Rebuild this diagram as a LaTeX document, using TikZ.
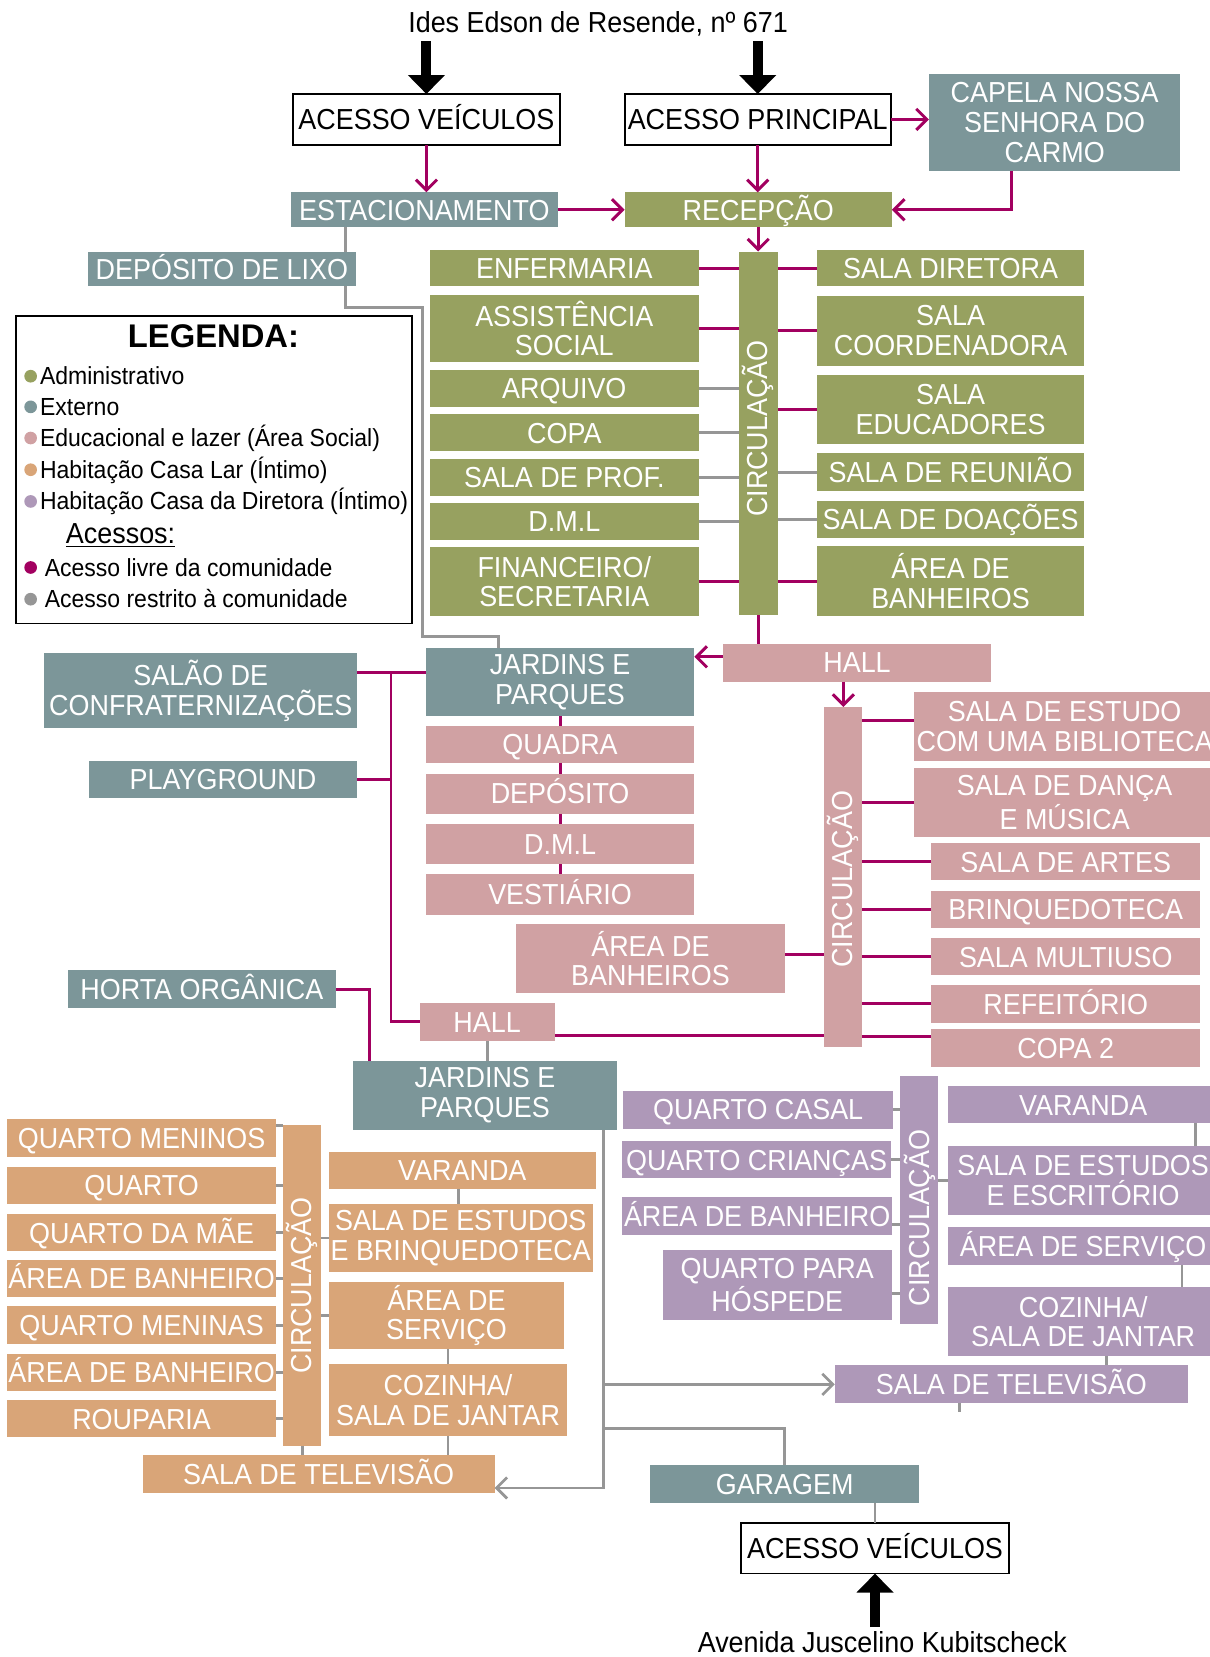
\documentclass[tikz,border=0pt]{standalone}
\usepackage{fontspec}
\setmainfont{Liberation Sans}[FakeStretch=0.93]
\newfontfamily\wideft{Liberation Sans}
\usetikzlibrary{arrows.meta,calc}
\definecolor{olv}{RGB}{151,161,96}
\definecolor{tea}{RGB}{124,150,153}
\definecolor{pnk}{RGB}{208,161,163}
\definecolor{org}{RGB}{217,165,120}
\definecolor{pur}{RGB}{174,152,184}
\definecolor{mgt}{RGB}{162,0,96}
\definecolor{gr}{RGB}{150,150,150}
\newcommand\bx[7]{%
  \pgfmathsetmacro\bxcx{(#3+#5)/2}%
  \pgfmathsetmacro\bxcy{(#4+#6)/2}%
  \pgfmathsetmacro\bxw{(#5-#3)*0.5}%
  \pgfmathsetmacro\bxh{(#6-#4)*0.5}%
  \node[#1,minimum width=\bxw pt,minimum height=\bxh pt] (#2) at (\bxcx,\bxcy) {#7};}
\begin{document}
\begin{tikzpicture}[x=0.5pt,y=-0.5pt,
  bxs/.style={inner sep=0pt,outer sep=0pt,align=center,text=white,font=\fontsize{13.7}{14}\selectfont,
    text height=9.8pt,text depth=0pt},
  ml/.style={text height=,text depth=},
  sAdm/.style={bxs,fill=olv},
  sExt/.style={bxs,fill=tea},
  sEdu/.style={bxs,fill=pnk},
  sLar/.style={bxs,fill=org},
  sDir/.style={bxs,fill=pur},
  wbox/.style={bxs,fill=white,draw=black,line width=0.9pt,text=black},
  legbox/.style={inner sep=0pt,outer sep=0pt,draw=black,line width=0.8pt},
  mag/.style={draw=mgt,line width=1.4pt},
  gry/.style={draw=gr,line width=1.3pt},
  marr/.style={-{Straight Barb[length=5pt,width=10pt]}},
  blk/.style={draw=black,line width=4.8pt,-{Triangle[length=9pt,width=17pt]}},
  lgt/.style={anchor=base west,inner sep=0pt,font=\fontsize{11.7}{14}\selectfont},
  street/.style={inner sep=2pt,anchor=base,font=\fontsize{13.7}{14}\selectfont},
]
\useasboundingbox (0,0) rectangle (1145,1568);
\fill[white] (0,0) rectangle (1145,1568);
\clip (0,0) rectangle (1145,1568);

% ---------- top ----------
\node[street] (streetA) at (566,31) {Ides Edson de Resende, nº 671};
\bx{wbox}{av1}{277}{89}{530}{137}{ACESSO VEÍCULOS}
\bx{wbox}{ap}{591}{89}{843}{137}{ACESSO PRINCIPAL}
\bx{sExt,ml}{capela}{879}{70}{1117}{162}{CAPELA NOSSA\\SENHORA DO\\CARMO}
\bx{sExt}{estac}{275}{182}{528}{215}{ESTACIONAMENTO}
\bx{sAdm}{recep}{591}{182}{844}{215}{RECEPÇÃO}
\bx{sExt}{lixo}{83}{238}{337}{271}{DEPÓSITO DE LIXO}

% ---------- administrative ----------
\bx{sAdm}{enf}{407}{237}{661}{271}{ENFERMARIA}
\bx{sAdm,ml}{assist}{407}{279}{661}{343}{ASSISTÊNCIA\\SOCIAL}
\bx{sAdm}{arq}{407}{350}{661}{385}{ARQUIVO}
\bx{sAdm}{copa}{407}{392}{661}{427}{COPA}
\bx{sAdm}{prof}{407}{434}{661}{469}{SALA DE PROF.}
\bx{sAdm}{dmlA}{407}{476}{661}{511}{D.M.L}
\bx{sAdm,ml}{fin}{407}{518}{661}{583}{FINANCEIRO/\\SECRETARIA}
\bx{sAdm,ml}{circA}{699}{238}{736}{582}{\rotatebox{90}{\hspace{4.4pt}CIRCULAÇÃO}}
\bx{sAdm}{dirt}{773}{237}{1026}{271}{SALA DIRETORA}
\bx{sAdm,ml}{coord}{773}{280}{1026}{346}{SALA\\COORDENADORA}
\bx{sAdm,ml}{educ}{773}{355}{1026}{420}{SALA\\EDUCADORES}
\bx{sAdm}{reun}{773}{429}{1026}{465}{SALA DE REUNIÃO}
\bx{sAdm}{doa}{773}{474}{1026}{509}{SALA DE DOAÇÕES}
\bx{sAdm,ml}{banA}{773}{517}{1026}{583}{ÁREA DE\\BANHEIROS}

% ---------- legend ----------
\bx{legbox}{leg}{15}{299}{390}{590}{}
\node[inner sep=0pt,anchor=base,font=\wideft\bfseries\fontsize{15.5}{18}\selectfont] (legT) at (202,329) {LEGENDA:};
\fill[olv] (29,356) circle (3pt);
\fill[tea] (29,385) circle (3pt);
\fill[pnk] (29,414.5) circle (3pt);
\fill[org] (29,444.5) circle (3pt);
\fill[pur] (29,474.5) circle (3pt);
\fill[mgt] (29,537) circle (3pt);
\fill[gr] (29,567) circle (3pt);
\node[lgt] (lg1) at (37.5,364) {Administrativo};
\node[lgt] (lg2) at (37.5,393) {Externo};
\node[lgt] (lg3) at (37.5,422.5) {Educacional e lazer (Área Social)};
\node[lgt] (lg4) at (37.5,452.5) {Habitação Casa Lar (Íntimo)};
\node[lgt] (lg5) at (37.5,482.5) {Habitação Casa da Diretora (Íntimo)};
\node[lgt,font=\fontsize{13.7}{14}\selectfont] (lg6) at (62,514) {\underline{Acessos:}};
\node[lgt] (lg7) at (42,545.5) {Acesso livre da comunidade};
\node[lgt] (lg8) at (42,575) {Acesso restrito à comunidade};

% ---------- educational / social ----------
\bx{sExt,ml}{salao}{42}{618}{338}{689}{SALÃO DE\\CONFRATERNIZAÇÕES}
\bx{sExt}{play}{84}{720}{338}{755}{PLAYGROUND}
\bx{sExt,ml}{jardA}{403}{613}{657}{678}{JARDINS E\\PARQUES}
\bx{sEdu}{hallA}{684}{609}{938}{645}{HALL}
\bx{sEdu}{quadra}{403}{687}{657}{722}{QUADRA}
\bx{sEdu}{depo}{403}{732}{657}{770}{DEPÓSITO}
\bx{sEdu}{dmlB}{403}{780}{657}{818}{D.M.L}
\bx{sEdu}{vest}{403}{827}{657}{866}{VESTIÁRIO}
\bx{sEdu,ml}{banP}{488}{874}{743}{940}{ÁREA DE\\BANHEIROS}
\bx{sEdu,ml}{circB}{780}{669}{816}{991}{\rotatebox{90}{CIRCULAÇÃO\hspace{2pt}}}
\bx{sEdu,ml}{biblio}{865}{655}{1150}{720}{SALA DE ESTUDO\\COM UMA BIBLIOTECA}
\bx{sEdu,ml}{danca}{865}{727}{1150}{792}{SALA DE DANÇA\\E MÚSICA}
\bx{sEdu}{artes}{881}{798}{1136}{833}{SALA DE ARTES}
\bx{sEdu}{brinq}{881}{843}{1136}{878}{BRINQUEDOTECA}
\bx{sEdu}{multi}{881}{888}{1136}{923}{SALA MULTIUSO}
\bx{sEdu}{refeit}{881}{932}{1136}{968}{REFEITÓRIO}
\bx{sEdu}{copaB}{881}{974}{1136}{1010}{COPA 2}
\bx{sExt}{horta}{64}{918}{318}{954}{HORTA ORGÂNICA}
\bx{sEdu}{hallB}{397}{949}{525}{985}{HALL}
\bx{sExt,ml}{jardB}{334}{1004}{584}{1069}{JARDINS E\\PARQUES}

% ---------- casa lar ----------
\bx{sLar}{qmen}{7}{1059}{261}{1095}{QUARTO MENINOS}
\bx{sLar}{quarto}{7}{1104}{261}{1139}{QUARTO}
\bx{sLar}{qmae}{7}{1149}{261}{1184}{QUARTO DA MÃE}
\bx{sLar}{banOa}{7}{1192}{261}{1227}{ÁREA DE BANHEIRO}
\bx{sLar}{qmenas}{7}{1236}{261}{1272}{QUARTO MENINAS}
\bx{sLar}{banOb}{7}{1281}{261}{1316}{ÁREA DE BANHEIRO}
\bx{sLar}{roup}{7}{1325}{261}{1360}{ROUPARIA}
\bx{sLar,ml}{circC}{268}{1065}{304}{1368}{\rotatebox{90}{CIRCULAÇÃO}}
\bx{sLar}{varO}{311}{1090}{564}{1125}{VARANDA}
\bx{sLar,ml}{estO}{311}{1139}{561}{1204}{SALA DE ESTUDOS\\E BRINQUEDOTECA}
\bx{sLar,ml}{servO}{311}{1213}{534}{1277}{ÁREA DE\\SERVIÇO}
\bx{sLar,ml}{cozO}{311}{1291}{537}{1359}{COZINHA/\\SALA DE JANTAR}
\bx{sLar}{tvO}{135}{1377}{468}{1413}{SALA DE TELEVISÃO}

% ---------- casa da diretora ----------
\bx{sDir}{qc}{590}{1032}{845}{1068}{QUARTO CASAL}
\bx{sDir}{qcr}{589}{1080}{843}{1115}{QUARTO CRIANÇAS}
\bx{sDir}{banPu}{589}{1133}{844}{1169}{ÁREA DE BANHEIRO}
\bx{sDir,ml}{hosp}{627}{1183}{844}{1249}{QUARTO PARA\\HÓSPEDE}
\bx{sDir,ml}{circD}{852}{1018}{888}{1253}{\rotatebox{90}{CIRCULAÇÃO\hspace{17pt}}}
\bx{sDir}{varP}{897}{1028}{1153}{1063}{VARANDA}
\bx{sDir,ml}{estP}{897}{1084}{1153}{1150}{SALA DE ESTUDOS\\E ESCRITÓRIO}
\bx{sDir}{servP}{897}{1161}{1153}{1197}{ÁREA DE SERVIÇO}
\bx{sDir,ml}{cozP}{897}{1218}{1153}{1283}{COZINHA/\\SALA DE JANTAR}
\bx{sDir}{tvP}{790}{1292}{1124}{1328}{SALA DE TELEVISÃO}
\bx{sExt}{gar}{615}{1386}{870}{1422}{GARAGEM}
\bx{wbox}{avB}{701}{1441}{955}{1489}{ACESSO VEÍCULOS}
\node[street] (avenida) at (835,1564) {Avenida Juscelino Kubitscheck};

% ---------- connectors: top ----------
\draw[blk] (av1.north |- streetA.south) -- (av1.north);
\draw[blk] (ap.north |- streetA.south) -- (ap.north);
\draw[mag,marr] (av1.south) -- (av1.south |- estac.north);
\draw[mag,marr] (ap.south) -- (ap.south |- recep.north);
\draw[mag,marr] (ap.east) -- (ap.east -| capela.west);
\draw[mag,marr] (estac.east) -- (recep.west);
\coordinate (capdown) at ([xshift=-20.5pt]capela.south);
\draw[mag,marr] (capdown) |- (recep.east);
\draw[mag,marr] (recep.south) -- (recep.south |- circA.north);
\coordinate (lixoTop) at ([xshift=-5pt]lixo.north east);
\draw[gry] (estac.south -| lixoTop) -- (lixoTop);
\coordinate (lixoBot) at ([xshift=-5pt]lixo.south east);
\coordinate (gA) at (400,291);
\coordinate (gB) at (472,602);
\draw[gry] (lixoBot) |- (gA) |- (gB) -- (gB |- jardA.north);

% ---------- connectors: administrative ----------
\foreach \n/\s in {enf/mag,assist/mag,arq/gry,copa/gry,prof/gry,dmlA/gry,fin/mag}
  \draw[\s] (\n.east) -- (\n.east -| circA.west);
\foreach \n/\s in {dirt/mag,coord/mag,educ/mag,reun/gry,doa/gry,banA/mag}
  \draw[\s] (\n.west) -- (\n.west -| circA.east);

% ---------- connectors: social ----------
\draw[mag] (circA.south) -- (circA.south |- hallA.north);
\coordinate (hAw) at ([yshift=2.75pt]hallA.west);
\draw[mag,marr] (hAw) -- (hAw -| jardA.east);
\draw[mag,marr] (hallA.south -| circB.north) -- (circB.north);
\coordinate (jAw) at ([yshift=4.75pt]jardA.west);
\draw[mag] (jAw) -- (jAw -| salao.east);
\coordinate (trunk) at (370,636);
\draw[mag] (play.east) -- (play.east -| trunk);
\draw[mag] (hallB.west) -| (trunk);
\draw[mag] (jardA.south) -- (quadra.north);
\draw[mag] (quadra.south) -- (depo.north);
\draw[mag] (depo.south) -- (dmlB.north);
\draw[mag] (dmlB.south) -- (vest.north);
\coordinate (hBe) at ([yshift=-6.5pt]hallB.east);
\draw[mag] (hBe) -- (hBe -| circB.west);
\coordinate (bPe) at ([yshift=2pt]banP.east);
\draw[mag] (bPe) -- (bPe -| circB.west);
\foreach \n/\d in {biblio/2.75,danca/0,artes/0,brinq/0,multi/0,refeit/0,copaB/5.5}{
  \coordinate (tmpw) at ([yshift=\d pt]\n.west);
  \draw[mag] (tmpw) -- (tmpw -| circB.east);}
\coordinate (hortaDn) at ([xshift=8pt]jardB.north west);
\draw[mag] (horta.east) -| (hortaDn);
\draw[gry] (hallB.south) -- (hallB.south |- jardB.north);

% ---------- connectors: casa lar ----------
\draw[gry] (circC.north west) -- (circC.north west -| qmen.east);
\foreach \n in {quarto,qmae,banOa,qmenas,banOb,roup}
  \draw[gry] (\n.east) -- (\n.east -| circC.west);
\draw[gry] (estO.west) -- (estO.west -| circC.east);
\draw[gry] (servO.west) -- (servO.west -| circC.east);
\coordinate (vOd) at ([xshift=-1.75pt]varO.south);
\draw[gry] (vOd) -- (vOd |- estO.north);
\draw[gry] (cozO.north) -- (cozO.north |- servO.south);
\draw[gry] (cozO.south) -- (cozO.south |- tvO.north);
\draw[gry] (circC.south) -- (circC.south |- tvO.north);

% ---------- connectors: casa da diretora ----------
\foreach \n/\d in {qc/0,qcr/0,banPu/-4,hosp/-4}{
  \coordinate (tmpe) at ([yshift=\d pt]\n.east);
  \draw[gry] (tmpe) -- (tmpe -| circD.west);}
\draw[gry] (estP.west) -- (estP.west -| circD.east);
\coordinate (vpd) at ([xshift=-11pt]varP.south east);
\draw[gry] (vpd) -- (vpd |- estP.north);
\coordinate (spd) at ([xshift=-17.25pt]servP.south east);
\draw[gry] (spd) -- (spd |- cozP.north);
\coordinate (cpd) at ([xshift=11pt]cozP.south);
\draw[gry] (cpd) -- (cpd |- tvP.north);
\coordinate (tvsA) at ([xshift=-24.7pt]tvP.south);
\coordinate (tvsB) at ([yshift=-4pt]tvsA);
\draw[gry] (tvsA) -- (tvsB);

% ---------- connectors: bottom ----------
\coordinate (trk) at ([xshift=-6.5pt]jardB.south east);
\coordinate (tvOe) at ([yshift=-6.5pt]tvO.east);
\draw[gry,marr] (trk) |- (tvOe);
\draw[gry,marr] (trk |- tvP.west) -- (tvP.west);
\coordinate (gj) at (742,1352);
\draw[gry] (trk |- gj) -| (gar.north);
\draw[gry] (gar.south -| avB.north) -- (avB.north);
\draw[blk] (avB.south |- avenida.north) -- (avB.south);
\end{tikzpicture}
\end{document}
